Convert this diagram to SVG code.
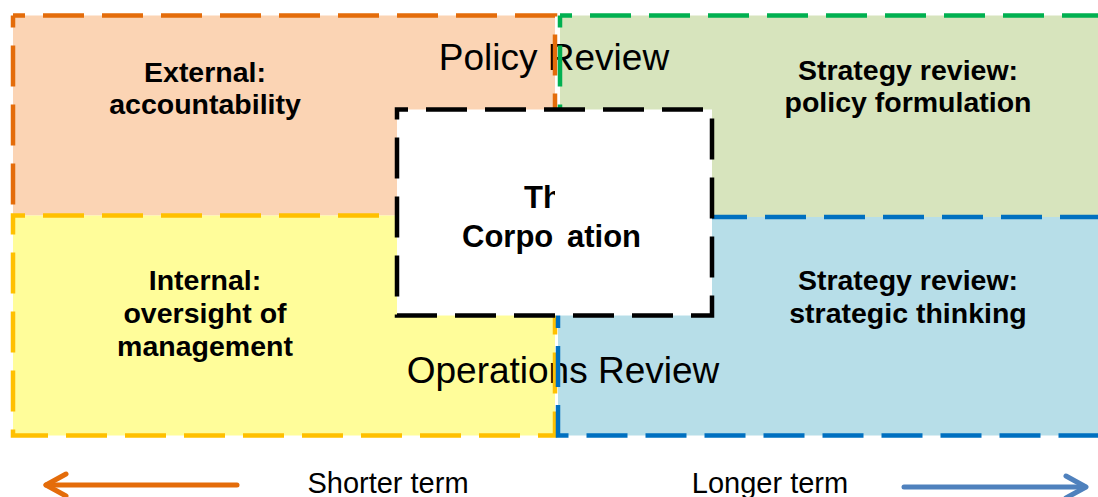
<svg xmlns="http://www.w3.org/2000/svg" width="1098" height="497" viewBox="0 0 1098 497">
  <style>
    .lbl { font-family: "Liberation Sans", Arial, sans-serif; font-weight: bold; font-size: 28.5px; fill: #000; text-anchor: middle; }
    .corp { font-family: "Liberation Sans", Arial, sans-serif; font-weight: bold; font-size: 31px; fill: #000; }
    .big { font-family: "Liberation Sans", Arial, sans-serif; font-size: 37px; fill: #000; text-anchor: middle; }
    .term { font-family: "Liberation Sans", Arial, sans-serif; font-size: 29px; fill: #000; text-anchor: middle; }
    .dash { fill: none; stroke-width: 4.5; stroke-dasharray: 41 18; stroke-dashoffset: 29; }
    .box { fill: #fff; stroke: #000; stroke-width: 4.5; stroke-dasharray: 41 18; stroke-dashoffset: 30; }
    .arrow { fill: none; stroke-width: 5; stroke-linecap: round; stroke-linejoin: round; }
  </style>
  <defs>
    <clipPath id="clip-th">
      <rect x="400" y="150" width="155" height="80"/>
    </clipPath>
  </defs>

  <rect x="0" y="0" width="1098" height="497" fill="#fff"/>

  <!-- quadrant fills with their labels -->
  <g id="node-external">
    <rect x="13" y="15.5" width="542" height="200" fill="#FBD4B4"/>
    <text class="lbl" x="205" y="82">External:</text>
    <text class="lbl" x="205" y="114">accountability</text>
  </g>
  <g id="node-policy">
    <rect x="560" y="15.5" width="560" height="202" fill="#D7E4BD"/>
    <text class="lbl" x="908" y="80">Strategy review:</text>
    <text class="lbl" x="908" y="112">policy formulation</text>
  </g>
  <g id="node-internal">
    <rect x="13" y="215.5" width="542" height="220" fill="#FFFD9A"/>
    <text class="lbl" x="205" y="290">Internal:</text>
    <text class="lbl" x="205" y="323">oversight of</text>
    <text class="lbl" x="205" y="356">management</text>
  </g>
  <g id="node-strategic">
    <rect x="558" y="217" width="560" height="218.5" fill="#B7DEE8"/>
    <text class="lbl" x="908" y="290">Strategy review:</text>
    <text class="lbl" x="908" y="323">strategic thinking</text>
  </g>

  <!-- row headings -->
  <g id="label-policy-review">
    <text class="big" x="554" y="70">Policy Review</text>
  </g>
  <g id="label-operations-review">
    <text class="big" x="563" y="383">Operations Review</text>
  </g>

  <!-- dashed quadrant borders (upper boxes' bottom edges sit under the lower boxes) -->
  <g id="outlines">
    <path class="dash" d="M13,15.5 H555 V215.5 M13,15.5 V215.5" stroke="#E46C0A"/>
    <path class="dash" d="M560,15.5 H1110 M560,15.5 V217" stroke="#00B050"/>
    <rect class="dash" x="13" y="215.5" width="542" height="220" stroke="#FFC000"/>
    <rect class="dash" x="558" y="217" width="560" height="218.5" stroke="#0070C0"/>
  </g>

  <!-- central box -->
  <g id="node-corporation">
    <rect class="box" x="397" y="109.5" width="315" height="206"/>
    <text class="corp" x="524" y="208" clip-path="url(#clip-th)">Th</text>
    <text class="corp" x="462" y="247">Corpo</text>
    <text class="corp" x="567" y="247">ation</text>
  </g>

  <!-- time-horizon arrows -->
  <g id="connectors">
    <g id="arrow-shorter">
      <line class="arrow" x1="237" y1="485" x2="46" y2="485" stroke="#E46C0A"/>
      <polyline class="arrow" points="66,474 46,485 66,496" stroke="#E46C0A"/>
      <text class="term" x="388" y="493">Shorter term</text>
    </g>
    <g id="arrow-longer">
      <line class="arrow" x1="904" y1="487" x2="1085" y2="487" stroke="#4F81BD"/>
      <polyline class="arrow" points="1066,476 1086,487 1066,498" stroke="#4F81BD"/>
      <text class="term" x="770" y="493">Longer term</text>
    </g>
  </g>
</svg>
